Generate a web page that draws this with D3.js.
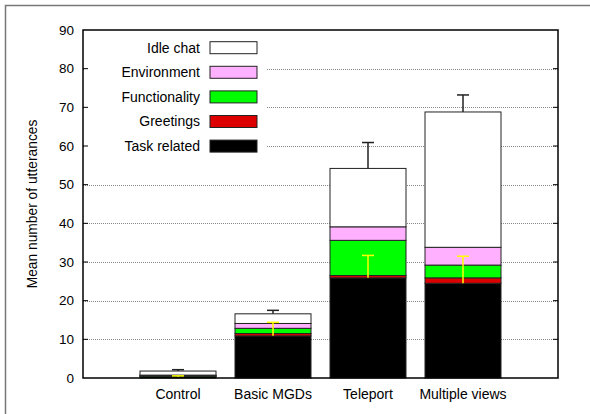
<!DOCTYPE html>
<html><head><meta charset="utf-8">
<script src="https://cdn.jsdelivr.net/npm/d3@7/dist/d3.min.js"></script>
<style>body{margin:0;background:#fff}svg{display:block}text{font-family:"Liberation Sans",Arial,sans-serif;fill:#000}</style>
</head><body>
<svg id="c" width="590" height="414"></svg>
<script>
const categories = ["Control", "Basic MGDs", "Teleport", "Multiple views"];
const taskRelated   = [0.35, 10.9, 25.9, 24.5];
const greetings     = [0.1, 0.6, 0.6, 1.4];
const functionality = [0.15, 1.35, 9.1, 3.3];
const environment   = [0.15, 1.25, 3.5, 4.6];
const idleChat      = [1.05, 2.5, 15.1, 35.0];
const totalError    = [0.35, 0.9, 6.7, 4.4];
const taskError     = [0.2, 3.5, 5.8, 7.0];
const yTicks = [0, 10, 20, 30, 40, 50, 60, 70, 80, 90];
const seriesNames = ["Task related", "Greetings", "Functionality", "Environment", "Idle chat"];
const seriesColors = ["#000000", "#dd0000", "#00ff00", "#ffb0ff", "#ffffff"];

const svg = d3.select("#c");
const L = 83, R = 558, T = 30, B = 378;
const x = d3.scaleLinear().domain([0, 5]).range([L, R]);
const y = d3.scaleLinear().domain([0, 90]).range([B, T]);
const bw = (x(1) - x(0)) * 0.8;

// outer border
svg.append("path").attr("d", `M5.5,414V5.5H590`).attr("fill", "none").attr("stroke", "#777").attr("stroke-width", 1.5);

// grid
svg.append("g").selectAll("line").data(yTicks.filter(t => t > 0 && t < 90)).join("line")
  .attr("x1", L).attr("x2", R).attr("y1", d => Math.round(y(d)) + 0.5).attr("y2", d => Math.round(y(d)) + 0.5)
  .attr("stroke", "#888").attr("stroke-width", 1).attr("stroke-dasharray", "1,1");

// legend background covering grid
svg.append("rect").attr("x", L + 1).attr("y", T + 1).attr("width", 265 - L).attr("height", 130).attr("fill", "#fff");

// stacked bars
const series = [taskRelated, greetings, functionality, environment, idleChat];
const stack = categories.map((c, i) => {
  let acc = 0;
  return series.map((s, k) => { const y0 = acc; acc += s[i]; return {i, k, y0, y1: acc}; });
});
const gb = svg.append("g");
stack.forEach(segs => {
  segs.forEach(s => {
    gb.append("rect")
      .attr("x", x(s.i + 1) - bw / 2).attr("width", bw)
      .attr("y", y(s.y1)).attr("height", y(s.y0) - y(s.y1))
      .attr("fill", seriesColors[s.k]).attr("stroke", "#222").attr("stroke-width", 1);
  });
});

// error bars
function errBar(i, base, err, color) {
  const cx = x(i + 1);
  gb.append("line").attr("x1", cx).attr("x2", cx).attr("y1", y(base)).attr("y2", y(base + err))
    .attr("stroke", color).attr("stroke-width", 1.5);
  gb.append("line").attr("x1", cx - 6).attr("x2", cx + 6).attr("y1", y(base + err)).attr("y2", y(base + err))
    .attr("stroke", color).attr("stroke-width", 1.5);
}
categories.forEach((c, i) => {
  const total = stack[i][4].y1;
  errBar(i, total, totalError[i], "#222");
  errBar(i, taskRelated[i], taskError[i], "#ffff00");
});

// frame
svg.append("rect").attr("x", L).attr("y", T).attr("width", R - L).attr("height", B - T)
  .attr("fill", "none").attr("stroke", "#000").attr("stroke-width", 1.5);

// y ticks
const ga = svg.append("g");
yTicks.forEach(t => {
  if (t > 0 && t < 90) {
    ga.append("line").attr("x1", L).attr("x2", L + 5).attr("y1", y(t)).attr("y2", y(t)).attr("stroke", "#000");
    ga.append("line").attr("x1", R).attr("x2", R - 5).attr("y1", y(t)).attr("y2", y(t)).attr("stroke", "#000");
  }
  ga.append("text").attr("x", 74).attr("y", y(t)).attr("dy", "0.35em").attr("text-anchor", "end")
    .attr("font-size", 13.5).text(t);
});

// x labels
categories.forEach((c, i) => {
  ga.append("text").attr("x", x(i + 1)).attr("y", 399).attr("text-anchor", "middle").attr("font-size", 14).text(c);
});

// y title
svg.append("text").attr("transform", `translate(37,${(T + B) / 2}) rotate(-90)`).attr("text-anchor", "middle")
  .attr("font-size", 13.8).text("Mean number of utterances");

// legend
const legOrder = [4, 3, 2, 1, 0];
legOrder.forEach((k, j) => {
  const cy = 47.7 + j * 24.6;
  svg.append("text").attr("x", 200).attr("y", cy).attr("dy", "0.35em").attr("text-anchor", "end")
    .attr("font-size", 14).text(seriesNames[k]);
  svg.append("rect").attr("x", 210).attr("y", cy - 6).attr("width", 47).attr("height", 12)
    .attr("fill", seriesColors[k]).attr("stroke", "#222").attr("stroke-width", 1);
});
</script>
</body></html>
